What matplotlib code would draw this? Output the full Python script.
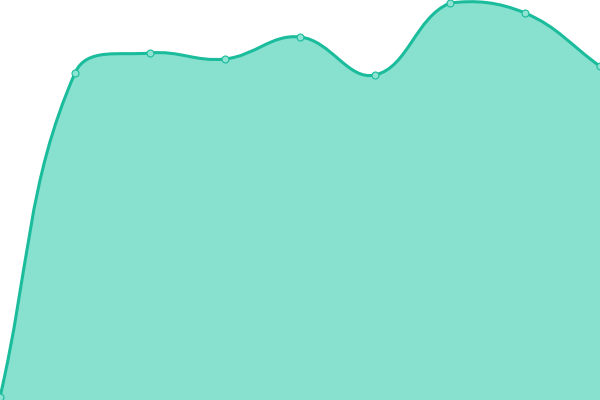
import numpy as np
import matplotlib
matplotlib.use("Agg")
import matplotlib.pyplot as plt
from matplotlib.path import Path
from matplotlib.patches import PathPatch

# Data
positions = [0, 1, 2, 3, 4, 5, 6, 7, 8]
values = [0, 81, 86, 84.5, 90, 80.5, 98.5, 96, 82.7]

line_color = "#1abc9c"
fill_color = "#88e0cf"
marker_face = "#8ee3d2"
tension = 0.4

fig = plt.figure(figsize=(6, 4), dpi=100)
ax = fig.add_axes([0, 0, 1, 1])
ax.set_xlim(0, 8)
ax.set_ylim(-0.75, 99.25)
ax.axis("off")

# Convert to display (pixel) coords
trans = ax.transData
pts = trans.transform(np.column_stack([positions, values]))
W, H = fig.bbox.width, fig.bbox.height

n = len(pts)
ctrl_prev = [None] * n
ctrl_next = [None] * n
for i in range(n):
    cur = pts[i]
    prev = pts[i - 1] if i > 0 else cur
    nxt = pts[i + 1] if i < n - 1 else cur
    d01 = np.hypot(*(cur - prev))
    d12 = np.hypot(*(nxt - cur))
    tot = d01 + d12
    s01 = d01 / tot if tot else 0
    s12 = d12 / tot if tot else 0
    fa = tension * s01
    fb = tension * s12
    p = cur - fa * (nxt - prev)
    q = cur + fb * (nxt - prev)
    p = np.array([np.clip(p[0], 0, W), np.clip(p[1], 0, H)])
    q = np.array([np.clip(q[0], 0, W), np.clip(q[1], 0, H)])
    ctrl_prev[i] = p
    ctrl_next[i] = q

verts = [pts[0]]
codes = [Path.MOVETO]
for i in range(n - 1):
    verts += [ctrl_next[i], ctrl_prev[i + 1], pts[i + 1]]
    codes += [Path.CURVE4] * 3

inv = trans.inverted()
dverts = inv.transform(np.array(verts))

# Fill area
base = -0.75
fill_verts = list(dverts) + [[positions[-1], base], [positions[0], base], dverts[0]]
fill_codes = codes + [Path.LINETO, Path.LINETO, Path.CLOSEPOLY]
ax.add_patch(PathPatch(Path(fill_verts, fill_codes), facecolor=fill_color,
                       edgecolor="none", zorder=1))
ax.add_patch(PathPatch(Path(dverts, codes), facecolor="none",
                       edgecolor=line_color, linewidth=2.2, zorder=2,
                       capstyle="round", joinstyle="round"))
ax.plot(positions, values, linestyle="none", marker="o", markersize=5,
        markerfacecolor=marker_face, markeredgecolor=line_color,
        markeredgewidth=0.8, zorder=3, clip_on=False)

fig.savefig("out.png", dpi=100)
